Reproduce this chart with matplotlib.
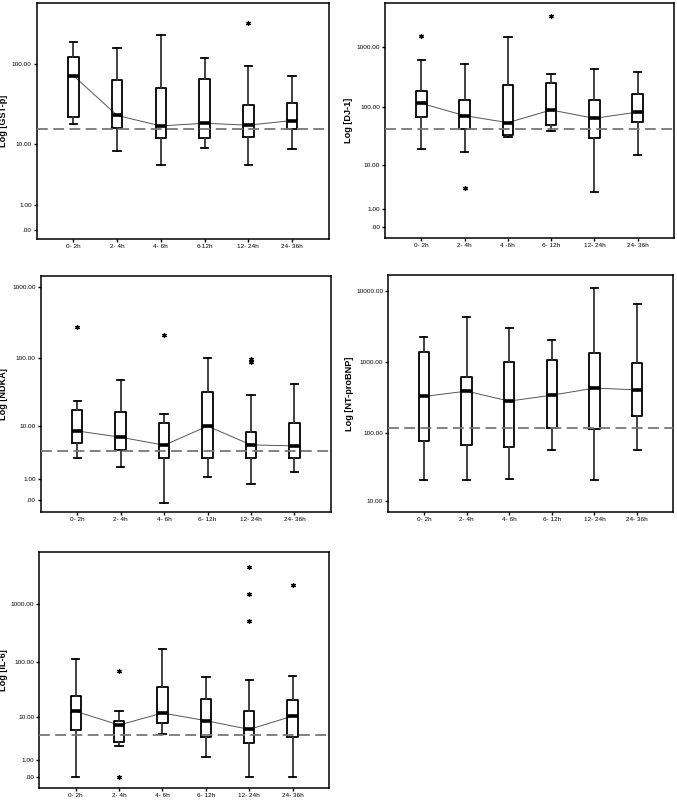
import numpy as np
import matplotlib
matplotlib.use("Agg")
import matplotlib.pyplot as plt

plt.rcParams['font.family'] = ['Liberation Sans', 'DejaVu Sans']

# time windows
groups = ["0- 2h", "2- 4h", "4- 6h", "6- 12h", "12- 24h", "24- 36h"]

# GST-p : whisker low, q1, median, q3, whisker high
gst_low = [18.1, 8.0, 5.1, 8.8, 5.0, 8.4]
gst_q1 = [21.8, 15.9, 11.7, 11.9, 12.4, 15.6]
gst_med = [72.0, 23.1, 17.0, 18.4, 17.4, 19.9]
gst_q3 = [121.0, 64.2, 50.6, 65.4, 30.8, 33.0]
gst_high = [187.0, 158.6, 224.0, 117.0, 95.0, 70.6]
gst_out = [[], [], [], [], [317.0], []]
gst_ref = 15.7

# DJ-1
dj_low = [19.0, 17.0, 30.2, 38.3, 2.86, 14.7]
dj_q1 = [67.0, 42.5, 33.5, 49.6, 29.0, 55.0]
dj_med = [113.5, 70.4, 53.7, 87.7, 63.5, 81.0]
dj_q3 = [185.0, 129.0, 227.0, 245.0, 127.0, 163.0]
dj_high = [592.0, 520.0, 1425.0, 350.0, 430.0, 373.0]
dj_out = [[1520.0], [3.5], [], [3265.0], [], []]
dj_ref = 41.4

# NDKA
ndka_low = [3.0, 1.96, -0.09, 1.16, 0.68, 1.48]
ndka_q1 = [5.45, 4.08, 3.0, 3.0, 3.0, 2.96]
ndka_med = [8.5, 6.75, 4.98, 10.1, 5.04, 4.85]
ndka_q3 = [17.9, 16.3, 11.2, 32.1, 8.3, 11.1]
ndka_high = [24.5, 47.9, 15.2, 99.0, 30.0, 42.9]
ndka_out = [[279.0], [], [210.0], [], [95.8, 88.7], []]
ndka_ref = 3.92

# NT-proBNP
bnp_low = [20.4, 20.4, 21.1, 56.4, 20.4, 55.9]
bnp_q1 = [77.0, 67.0, 63.0, 116.7, 114.0, 175.0]
bnp_med = [326.0, 388.0, 280.0, 340.0, 428.0, 405.0]
bnp_q3 = [1385.0, 619.0, 1010.0, 1066.0, 1326.0, 957.0]
bnp_high = [2281.0, 4381.0, 3061.0, 2026.0, 11272.0, 6618.0]
bnp_out = [[], [], [], [], [], []]
bnp_ref = 118.0

# IL-6
il_low = [0.0, 2.38, 4.55, 1.2, 0.0, 0.0]
il_q1 = [5.6, 3.08, 7.5, 3.99, 2.92, 3.99]
il_med = [12.8, 6.97, 11.9, 8.5, 5.7, 10.4]
il_q3 = [24.9, 8.5, 35.2, 21.3, 13.2, 20.4]
il_high = [112.0, 13.0, 165.0, 53.0, 48.2, 56.8]
il_out = [[], [67.7, 0.0], [], [], [4477.0, 1513.0, 511.0], [2144.0]]
il_ref = 4.33

W, H = 677, 800


def fwd(v):
    return np.log10(np.asarray(v, dtype=float) + 1)


def inv(y):
    return 10 ** np.asarray(y, dtype=float) - 1


def panel(px, label, label_x, low, q1, med, q3, high, outs, ref, ticks, ylo, yhi, xlabels):
    # px = left, top, right, bottom in pixels
    l, t, r, b = px
    ax = fig.add_axes([l / W, 1 - b / H, (r - l) / W, (b - t) / H])
    ax.set_yscale('function', functions=(fwd, inv))
    stats = []
    for i in range(len(groups)):
        stats.append({'whislo': low[i], 'q1': q1[i], 'med': med[i], 'q3': q3[i],
                      'whishi': high[i], 'fliers': []})
    pos = np.arange(1, len(groups) + 1)
    ax.bxp(stats, positions=pos, widths=0.24, showfliers=False,
           boxprops=dict(color='black', linewidth=1.3),
           whiskerprops=dict(color='#333333', linewidth=1.3),
           capprops=dict(color='black', linewidth=1.3),
           medianprops=dict(color='black', linewidth=2.6),
           capwidths=0.17)
    ax.plot(pos, med, color='#555555', linewidth=0.7, zorder=1)
    ax.axhline(ref, color='#777777', linestyle=(0, (6, 3)), linewidth=1.3, zorder=3)
    for i, o in enumerate(outs):
        if o:
            ax.plot([pos[i]] * len(o), o, linestyle='none', marker=(6, 2, 0),
                    markersize=3.4, color='black', markeredgewidth=0.9)
    ax.set_xlim(0.16, 6.84)
    ax.set_ylim(inv(ylo), inv(yhi))
    ax.set_yticks(ticks)
    ax.set_yticklabels([('%.2f' % t).lstrip('0') if t < 1 else '%.2f' % t for t in ticks])
    ax.yaxis.set_minor_locator(matplotlib.ticker.NullLocator())
    ax.set_xticks(pos)
    ax.set_xticklabels(xlabels)
    ax.tick_params(axis='both', labelsize=4.6, length=2.5, width=1, pad=1, colors='black')
    ax.set_ylabel(label, fontsize=6.6, fontweight='bold')
    ax.yaxis.set_label_coords((label_x - l) / (r - l), 0.5)
    for s in ax.spines.values():
        s.set_linewidth(1.1)
    return ax


fig = plt.figure(figsize=(6.77, 8.0), dpi=100)

lab1 = ["0- 2h", "2- 4h", "4- 6h", "6-12h", "12- 24h", "24- 36h"]
lab2 = ["0- 2h", "2- 4h", "4 -6h", "6- 12h", "12- 24h", "24- 36h"]

panel([36.7, 3, 328.7, 239], "Log [GST-p]", 8.5, gst_low, gst_q1, gst_med, gst_q3,
      gst_high, gst_out, gst_ref, [0, 1, 10, 100], -0.111, 2.741, lab1)
panel([385, 3, 674, 238], "Log [DJ-1]", 353, dj_low, dj_q1, dj_med, dj_q3,
      dj_high, dj_out, dj_ref, [0, 1, 10, 100, 1000], -0.177, 3.724, lab2)
panel([40.7, 276, 331, 512], "Log [NDKA]", 8.5, ndka_low, ndka_q1, ndka_med, ndka_q3,
      ndka_high, ndka_out, ndka_ref, [0, 1, 10, 100, 1000], -0.165, 3.162, groups)
panel([388, 275, 673, 512], "Log [NT-proBNP]", 354, bnp_low, bnp_q1, bnp_med, bnp_q3,
      bnp_high, bnp_out, bnp_ref, [10, 100, 1000, 10000], 0.882, 4.231, groups)
panel([39.3, 552, 329, 788], "Log [IL-6]", 8.5, il_low, il_q1, il_med, il_q3,
      il_high, il_out, il_ref, [0, 1, 10, 100, 1000], -0.192, 3.907, groups)

fig.savefig("out.png", dpi=100)
